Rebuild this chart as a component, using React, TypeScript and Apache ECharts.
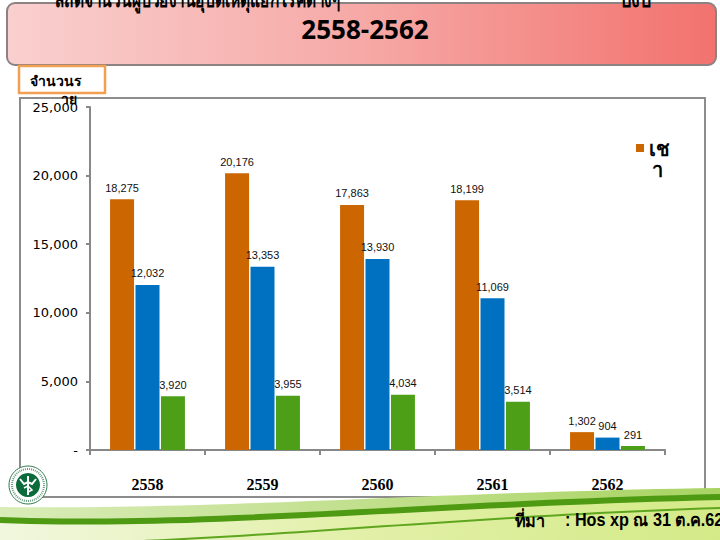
import React, { useEffect, useRef } from "react";
import * as echarts from "echarts";

const categories = ["2558", "2559", "2560", "2561", "2562"];
const seriesNames = ["เช้า", "บ่าย", "ดึก"];
const morning = [18275, 20176, 17863, 18199, 1302];
const afternoon = [12032, 13353, 13930, 11069, 904];
const night = [3920, 3955, 4034, 3514, 291];
const colors = ["#CC6600", "#0070C0", "#4E9F18"];
const titleLine1 = "สถิติจำนวนผู้ป่วยงานอุบัติเหตุแยกโรคต่างๆ";
const titleLine1b = "ปีงบ";
const titleLine2 = "2558-2562";
const yName1 = "จำนวนร";
const yName2 = "าย";
const sourceLabel = "ที่มา";
const sourceText = ": Hos xp ณ 31 ต.ค.62";

const THAI = "'Noto Sans', 'DejaVu Sans', 'Noto Sans CJK SC', sans-serif";

function bez(p0: number[], p1: number[], p2: number[], p3: number[], n = 40) {
  const pts: number[][] = [];
  for (let i = 0; i <= n; i++) {
    const t = i / n;
    const a = (1 - t) ** 3, b = 3 * (1 - t) ** 2 * t, c = 3 * (1 - t) * t * t, d = t ** 3;
    pts.push([a * p0[0] + b * p1[0] + c * p2[0] + d * p3[0], a * p0[1] + b * p1[1] + c * p2[1] + d * p3[1]]);
  }
  return pts;
}

export default function App() {
  const ref = useRef<HTMLDivElement>(null);
  useEffect(() => {
    const chart = echarts.init(ref.current!, null, { renderer: "svg" });
    const fmt = (v: number) => (v === 0 ? "-" : v.toLocaleString("en-US"));
    const band = bez([0, 520], [200, 528], [420, 504], [720, 497]);
    const upper = bez([0, 507], [220, 510], [430, 492], [720, 488]);
    const series = [morning, afternoon, night].map((d, i) => ({
      name: seriesNames[i],
      type: "bar",
      data: d,
      barWidth: 24,
      barGap: "6%",
      itemStyle: { color: colors[i] },
      label: {
        show: true,
        position: "top",
        distance: 6,
        formatter: (p: any) => fmt(p.value),
        fontFamily: "'Liberation Sans', Arial, sans-serif",
        fontSize: 11,
        color: "#111",
      },
    }));
    chart.setOption({
      animation: false,
      backgroundColor: "#ffffff",
      grid: { left: 90, right: 55, top: 107, bottom: 90 },
      legend: {
        data: [seriesNames[0]],
        left: 636,
        top: 138,
        padding: 0,
        icon: "rect",
        itemWidth: 8,
        itemHeight: 8,
        formatter: () => "เช",
        textStyle: { fontSize: 20, fontWeight: "bold", fontFamily: THAI, color: "#000" },
      },
      xAxis: {
        type: "category",
        data: categories,
        axisLine: { lineStyle: { color: "#888", width: 2 } },
        axisTick: { show: true, length: 5, lineStyle: { color: "#888", width: 2 } },
        axisLabel: {
          margin: 26,
          fontFamily: "'Liberation Serif', 'Times New Roman', serif",
          fontWeight: "bold",
          fontSize: 16,
          color: "#000",
        },
      },
      yAxis: {
        type: "value",
        min: 0,
        max: 25000,
        interval: 5000,
        splitLine: { show: false },
        axisLine: { show: true, lineStyle: { color: "#888", width: 2 } },
        axisTick: { show: true, length: 4, lineStyle: { color: "#888", width: 2 } },
        axisLabel: {
          margin: 12,
          formatter: fmt,
          fontFamily: "'DejaVu Sans', Verdana, sans-serif",
          fontSize: 13,
          color: "#000",
        },
      },
      series,
      graphic: [
        // title box
        {
          type: "rect",
          shape: { x: 7, y: 3, width: 709, height: 62, r: 8 },
          style: {
            fill: new echarts.graphic.LinearGradient(0, 0, 1, 0, [
              { offset: 0, color: "#f9d0cf" },
              { offset: 0.5, color: "#f6a9a6" },
              { offset: 1, color: "#f2726e" },
            ]),
            stroke: "#8c8282",
            lineWidth: 2,
          },
          z: 1,
        },
        {
          type: "text",
          x: 55,
          y: 9,
          scaleX: 0.74,
          style: { text: titleLine1, font: `bold 21px ${THAI}`, fill: "#000", textVerticalAlign: "bottom" },
          z: 2,
        },
        {
          type: "text",
          x: 620,
          y: 9,
          scaleX: 0.85,
          style: { text: titleLine1b, font: `bold 21px ${THAI}`, fill: "#000", textVerticalAlign: "bottom" },
          z: 2,
        },
        {
          type: "text",
          x: 365,
          y: 29,
          style: {
            text: titleLine2,
            font: "bold 26px 'Open Sans', 'DejaVu Sans', sans-serif",
            fill: "#000",
            textAlign: "center",
            textVerticalAlign: "middle",
          },
          z: 2,
        },
        // chart outer border
        {
          type: "rect",
          shape: { x: 20, y: 98, width: 685, height: 399 },
          style: { fill: "none", stroke: "#8c8c8c", lineWidth: 2 },
          z: 0,
        },
        // y name box
        {
          type: "rect",
          shape: { x: 19, y: 66, width: 86, height: 27 },
          style: { fill: "#fff", stroke: "#f0a050", lineWidth: 2.5 },
          z: 1,
        },
        {
          type: "text",
          x: 30,
          y: 80,
          style: { text: yName1, font: `bold 14px ${THAI}`, fill: "#000", textVerticalAlign: "middle" },
          z: 2,
        },
        {
          type: "text",
          x: 61,
          y: 98,
          style: { text: yName2, font: `bold 14px ${THAI}`, fill: "#000", textVerticalAlign: "middle" },
          z: 2,
        },
        // legend second line
        {
          type: "text",
          x: 652,
          y: 169,
          style: { text: "า", font: `bold 20px ${THAI}`, fill: "#000", textVerticalAlign: "middle" },
          z: 2,
        },
        // bottom swoosh
        {
          type: "polygon",
          shape: { points: [...upper, [720, 540], [0, 540]] },
          style: {
            fill: new echarts.graphic.LinearGradient(0, 0, 1, 0, [
              { offset: 0, color: "#d9ecb8" },
              { offset: 1, color: "#a9d463" },
            ]),
          },
          z: 1,
        },
        {
          type: "polygon",
          shape: { points: [...band, [720, 540], [0, 540]] },
          style: {
            fill: new echarts.graphic.LinearGradient(0, 0, 1, 0, [
              { offset: 0, color: "#f1f7de" },
              { offset: 0.5, color: "#e2f0a8" },
              { offset: 1, color: "#d4ea88" },
            ]),
          },
          z: 1,
        },
        {
          type: "polyline",
          shape: { points: band },
          style: { stroke: "#4e9a12", lineWidth: 6, fill: "none" },
          z: 1,
        },
        {
          type: "polyline",
          shape: { points: bez([120, 542], [300, 535], [480, 516], [720, 508]) },
          style: { stroke: "#5ea61e", lineWidth: 2, fill: "none" },
          z: 1,
        },
        {
          type: "text",
          x: 515,
          y: 520,
          scaleX: 0.9,
          style: { text: sourceLabel, font: `bold 18px ${THAI}`, fill: "#000", textVerticalAlign: "middle" },
          z: 2,
        },
        {
          type: "text",
          x: 565,
          y: 520,
          scaleX: 0.9,
          style: {
            text: sourceText,
            font: "bold 18px 'Liberation Sans', Arial, sans-serif",
            fill: "#000",
            textVerticalAlign: "middle",
          },
          z: 2,
        },
        // logo
        {
          type: "circle",
          shape: { cx: 28, cy: 485, r: 19 },
          style: { fill: "#fff", stroke: "#2f7a4f", lineWidth: 1 },
          z: 3,
        },
        {
          type: "circle",
          shape: { cx: 28, cy: 485, r: 16 },
          style: { fill: "none", stroke: "#6a9a80", lineWidth: 2, lineDash: [1, 1] },
          z: 3,
        },
        {
          type: "circle",
          shape: { cx: 28, cy: 485, r: 12 },
          style: { fill: "#0b6b3a" },
          z: 3,
        },
        {
          type: "line",
          shape: { x1: 28, y1: 476, x2: 28, y2: 495 },
          style: { stroke: "#fff", lineWidth: 2 },
          z: 4,
        },
        {
          type: "polyline",
          shape: { points: [[20, 479], [24, 484], [28, 482], [32, 484], [36, 479]] },
          style: { stroke: "#fff", lineWidth: 2, fill: "none" },
          z: 4,
        },
        {
          type: "polyline",
          shape: { points: [[24, 488], [28, 486], [32, 490], [28, 492]] },
          style: { stroke: "#fff", lineWidth: 1.5, fill: "none" },
          z: 4,
        },
      ],
    });
    return () => chart.dispose();
  }, []);
  return <div ref={ref} style={{ width: 720, height: 540, position: "fixed", left: 0, top: 0 }} />;
}
